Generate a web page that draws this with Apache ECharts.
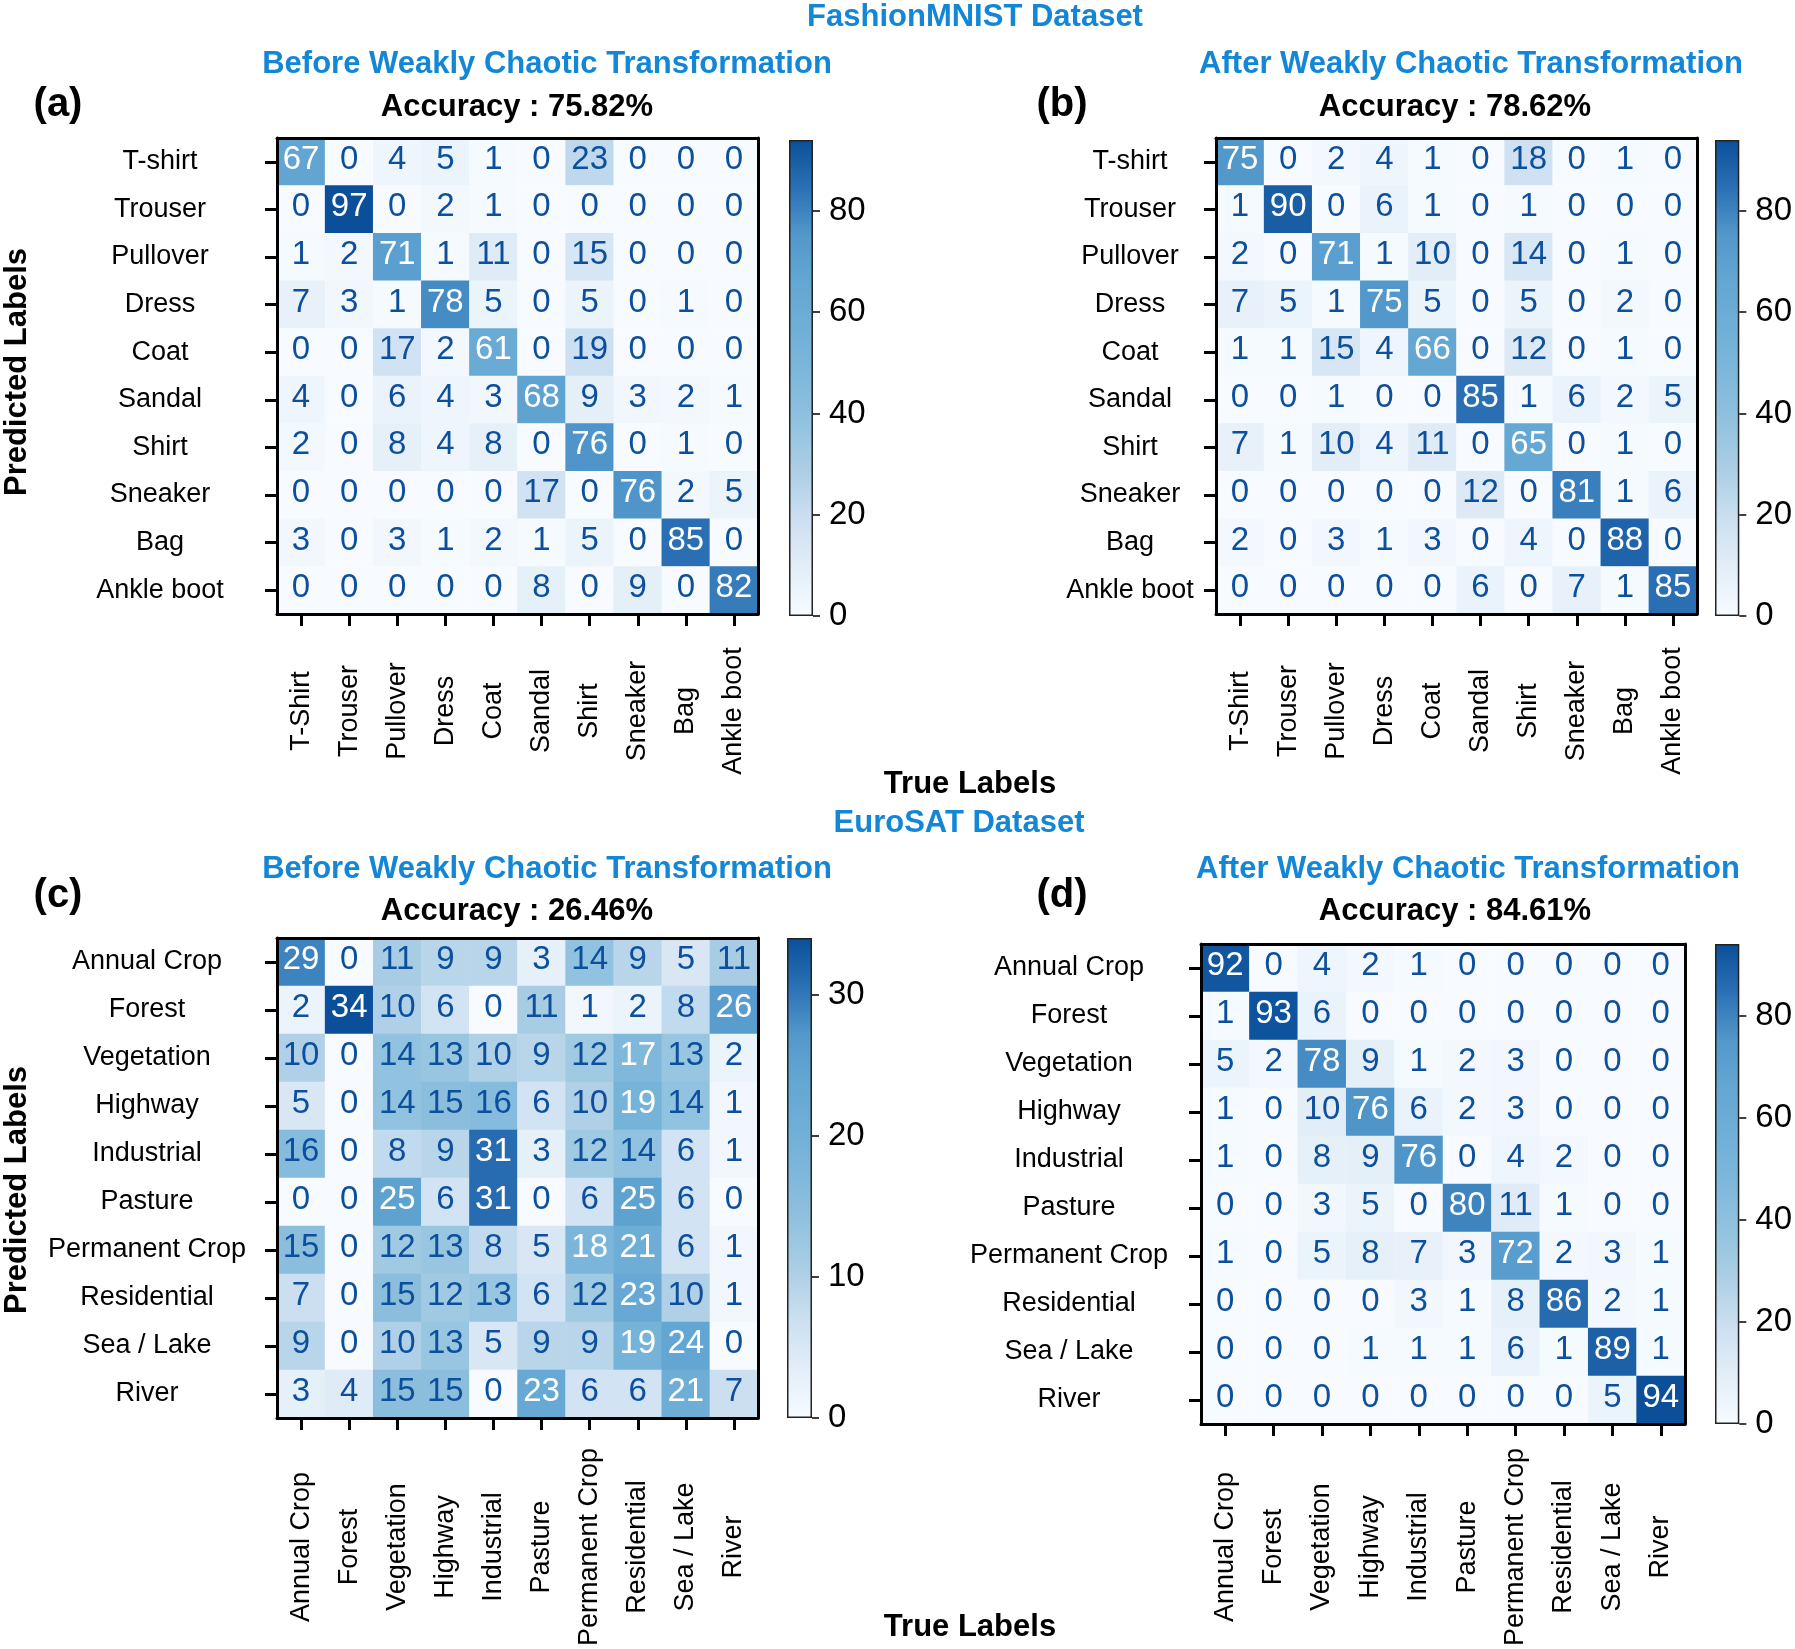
<!DOCTYPE html>
<html><head><meta charset="utf-8">
<script src="https://cdn.jsdelivr.net/npm/echarts@6/dist/echarts.min.js"></script>
<style>html,body{margin:0;padding:0;background:#fff}#c{width:1795px;height:1649px}</style>
</head><body><div id="c"></div>
<script>
// ---------------- DATA ----------------
const fashionPredLabels = ['T-shirt','Trouser','Pullover','Dress','Coat','Sandal','Shirt','Sneaker','Bag','Ankle boot'];
const fashionTrueLabels = ['T-Shirt','Trouser','Pullover','Dress','Coat','Sandal','Shirt','Sneaker','Bag','Ankle boot'];
const euroLabels = ['Annual Crop','Forest','Vegetation','Highway','Industrial','Pasture','Permanent Crop','Residential','Sea / Lake','River'];

const fashionBefore = [
  [67,0,4,5,1,0,23,0,0,0],
  [0,97,0,2,1,0,0,0,0,0],
  [1,2,71,1,11,0,15,0,0,0],
  [7,3,1,78,5,0,5,0,1,0],
  [0,0,17,2,61,0,19,0,0,0],
  [4,0,6,4,3,68,9,3,2,1],
  [2,0,8,4,8,0,76,0,1,0],
  [0,0,0,0,0,17,0,76,2,5],
  [3,0,3,1,2,1,5,0,85,0],
  [0,0,0,0,0,8,0,9,0,82]
];
const fashionAfter = [
  [75,0,2,4,1,0,18,0,1,0],
  [1,90,0,6,1,0,1,0,0,0],
  [2,0,71,1,10,0,14,0,1,0],
  [7,5,1,75,5,0,5,0,2,0],
  [1,1,15,4,66,0,12,0,1,0],
  [0,0,1,0,0,85,1,6,2,5],
  [7,1,10,4,11,0,65,0,1,0],
  [0,0,0,0,0,12,0,81,1,6],
  [2,0,3,1,3,0,4,0,88,0],
  [0,0,0,0,0,6,0,7,1,85]
];
const euroBefore = [
  [29,0,11,9,9,3,14,9,5,11],
  [2,34,10,6,0,11,1,2,8,26],
  [10,0,14,13,10,9,12,17,13,2],
  [5,0,14,15,16,6,10,19,14,1],
  [16,0,8,9,31,3,12,14,6,1],
  [0,0,25,6,31,0,6,25,6,0],
  [15,0,12,13,8,5,18,21,6,1],
  [7,0,15,12,13,6,12,23,10,1],
  [9,0,10,13,5,9,9,19,24,0],
  [3,4,15,15,0,23,6,6,21,7]
];
const euroAfter = [
  [92,0,4,2,1,0,0,0,0,0],
  [1,93,6,0,0,0,0,0,0,0],
  [5,2,78,9,1,2,3,0,0,0],
  [1,0,10,76,6,2,3,0,0,0],
  [1,0,8,9,76,0,4,2,0,0],
  [0,0,3,5,0,80,11,1,0,0],
  [1,0,5,8,7,3,72,2,3,1],
  [0,0,0,0,3,1,8,86,2,1],
  [0,0,0,1,1,1,6,1,89,1],
  [0,0,0,0,0,0,0,0,5,94]
];
const colorbarMax = [94, 94, 34, 94];
const colorbarStep = [20, 20, 10, 20];
const accuracies = ['Accuracy : 75.82%','Accuracy : 78.62%','Accuracy : 26.46%','Accuracy : 84.61%'];

// ---------------- STYLE / LAYOUT ----------------
const FONT = "'Liberation Sans', Arial, Helvetica, sans-serif";
const cmap = ['#f7fbff','#e3eef8','#cde0f1','#aecfe6','#93c3df','#7fb8db','#70afd7','#64a7d3','#5298cb','#2b70b4','#0b4f9a'];
const TITLE_BLUE = '#1387d6';
const DARK_TXT = '#0c4f9c';

const panels = [
  {m: fashionBefore, xc: fashionTrueLabels, yc: fashionPredLabels,
   grid:{left:277,top:138,width:481,height:476}, cb:{left:789,top:140,width:24,height:476}, xMargin:97, yMargin:117},
  {m: fashionAfter, xc: fashionTrueLabels, yc: fashionPredLabels,
   grid:{left:1216,top:138,width:481,height:476}, cb:{left:1715,top:140,width:25,height:476}, xMargin:97, yMargin:86},
  {m: euroBefore, xc: euroLabels, yc: euroLabels,
   grid:{left:277,top:938,width:481,height:480}, cb:{left:787,top:938,width:25,height:480}, xMargin:129, yMargin:130},
  {m: euroAfter, xc: euroLabels, yc: euroLabels,
   grid:{left:1201,top:944,width:484,height:480}, cb:{left:1715,top:944,width:25,height:480}, xMargin:123, yMargin:132}
];

const grids = [], xAxes = [], yAxes = [], series = [], visualMaps = [];
const frameLine = {show:true, lineStyle:{color:'#000', width:3}};

panels.forEach((p, k) => {
  const vmax = colorbarMax[k];
  const dataMax = Math.max(...p.m.flat());
  const gi = grids.length;
  grids.push(Object.assign({containLabel:false}, p.grid));
  const xi = xAxes.length, yi = yAxes.length;
  xAxes.push({type:'category', gridIndex:gi, data:p.xc, position:'bottom', z:10,
    axisLine:frameLine, splitLine:{show:false},
    axisTick:{show:true, alignWithLabel:true, length:12, lineStyle:{color:'#000', width:3}},
    axisLabel:{rotate:90, align:'center', verticalAlign:'middle', margin:p.xMargin, fontSize:27, color:'#000', fontFamily:FONT, interval:0}});
  xAxes.push({type:'category', gridIndex:gi, data:p.xc, position:'top', z:10,
    axisLine:frameLine, axisTick:{show:false}, axisLabel:{show:false}, splitLine:{show:false}});
  yAxes.push({type:'category', gridIndex:gi, data:p.yc, inverse:true, position:'left', z:10,
    axisLine:frameLine, splitLine:{show:false},
    axisTick:{show:true, alignWithLabel:true, length:12, lineStyle:{color:'#000', width:3}},
    axisLabel:{align:'center', margin:p.yMargin, fontSize:27, color:'#000', fontFamily:FONT, interval:0, padding:[3,0,0,0]}});
  yAxes.push({type:'category', gridIndex:gi, data:p.yc, inverse:true, position:'right', z:10,
    axisLine:frameLine, axisTick:{show:false}, axisLabel:{show:false}, splitLine:{show:false}});
  const data = [];
  p.m.forEach((row, i) => row.forEach((v, j) => {
    data.push({value:[j, i, v], label:{color: v >= dataMax/2 ? '#ffffff' : DARK_TXT}});
  }));
  const si = series.length;
  series.push({type:'heatmap', xAxisIndex:xi, yAxisIndex:yi, data:data, z:2,
    label:{show:true, fontSize:33, fontFamily:FONT, offset:[0,-2], formatter:(d)=>d.value[2]},
    itemStyle:{borderWidth:0}, emphasis:{disabled:true}, silent:true});
  visualMaps.push({type:'continuous', show:false, min:0, max:vmax, seriesIndex:si, dimension:2, inRange:{color:cmap}});

  const cg = grids.length;
  grids.push(Object.assign({containLabel:false}, p.cb));
  const cx = xAxes.length, cy = yAxes.length;
  xAxes.push({type:'category', gridIndex:cg, data:['cb'], show:false, boundaryGap:true});
  yAxes.push({type:'value', gridIndex:cg, min:0, max:vmax, interval:colorbarStep[k], position:'right', z:10,
    axisLine:{show:false}, splitLine:{show:false},
    axisTick:{show:true, inside:false, length:7, lineStyle:{color:'#000', width:1.5}},
    axisLabel:{show:true, margin:16, fontSize:33, color:'#000', fontFamily:FONT, showMaxLabel:false}});
  const stops = cmap.map((c, idx) => ({offset: idx/(cmap.length-1), color:c}));
  series.push({type:'bar', xAxisIndex:cx, yAxisIndex:cy, data:[vmax], barWidth:'100%', silent:true,
    itemStyle:{color:new echarts.graphic.LinearGradient(0,1,0,0, stops), borderColor:'#222', borderWidth:1.5},
    emphasis:{disabled:true}});
});

function txt(s, x, y, size, color, weight, rot) {
  return {type:'text', x:x, y:y, rotation:rot||0, z:100,
    style:{text:s, fill:color, font:(weight||'bold')+' '+size+'px '+FONT,
      align:'center', verticalAlign:'middle', textAlign:'center', textVerticalAlign:'middle'}};
}
const texts = [
  txt('FashionMNIST Dataset', 975, 17, 31, TITLE_BLUE),
  txt('Before Weakly Chaotic Transformation', 547, 64, 31, TITLE_BLUE),
  txt('After Weakly Chaotic Transformation', 1471, 64, 31, TITLE_BLUE),
  txt(accuracies[0], 517, 107, 31, '#000'),
  txt(accuracies[1], 1455, 107, 31, '#000'),
  txt('(a)', 58, 105, 40, '#000'),
  txt('(b)', 1062, 105, 40, '#000'),
  txt('True Labels', 970, 784, 31, '#000'),
  txt('EuroSAT Dataset', 959, 823, 31, TITLE_BLUE),
  txt('Before Weakly Chaotic Transformation', 547, 869, 31, TITLE_BLUE),
  txt('After Weakly Chaotic Transformation', 1468, 869, 31, TITLE_BLUE),
  txt(accuracies[2], 517, 911, 31, '#000'),
  txt(accuracies[3], 1455, 911, 31, '#000'),
  txt('(c)', 58, 896, 40, '#000'),
  txt('(d)', 1062, 896, 40, '#000'),
  txt('True Labels', 970, 1627, 31, '#000'),
  txt('Predicted Labels', 17, 372, 31, '#000', 'bold', Math.PI/2),
  txt('Predicted Labels', 17, 1190, 31, '#000', 'bold', Math.PI/2)
];

const chart = echarts.init(document.getElementById('c'), null, {width:1795, height:1649, renderer:'canvas'});
chart.setOption({
  backgroundColor:'#ffffff',
  animation:false,
  grid:grids, xAxis:xAxes, yAxis:yAxes, visualMap:visualMaps, series:series,
  graphic:texts
});
</script></body></html>
